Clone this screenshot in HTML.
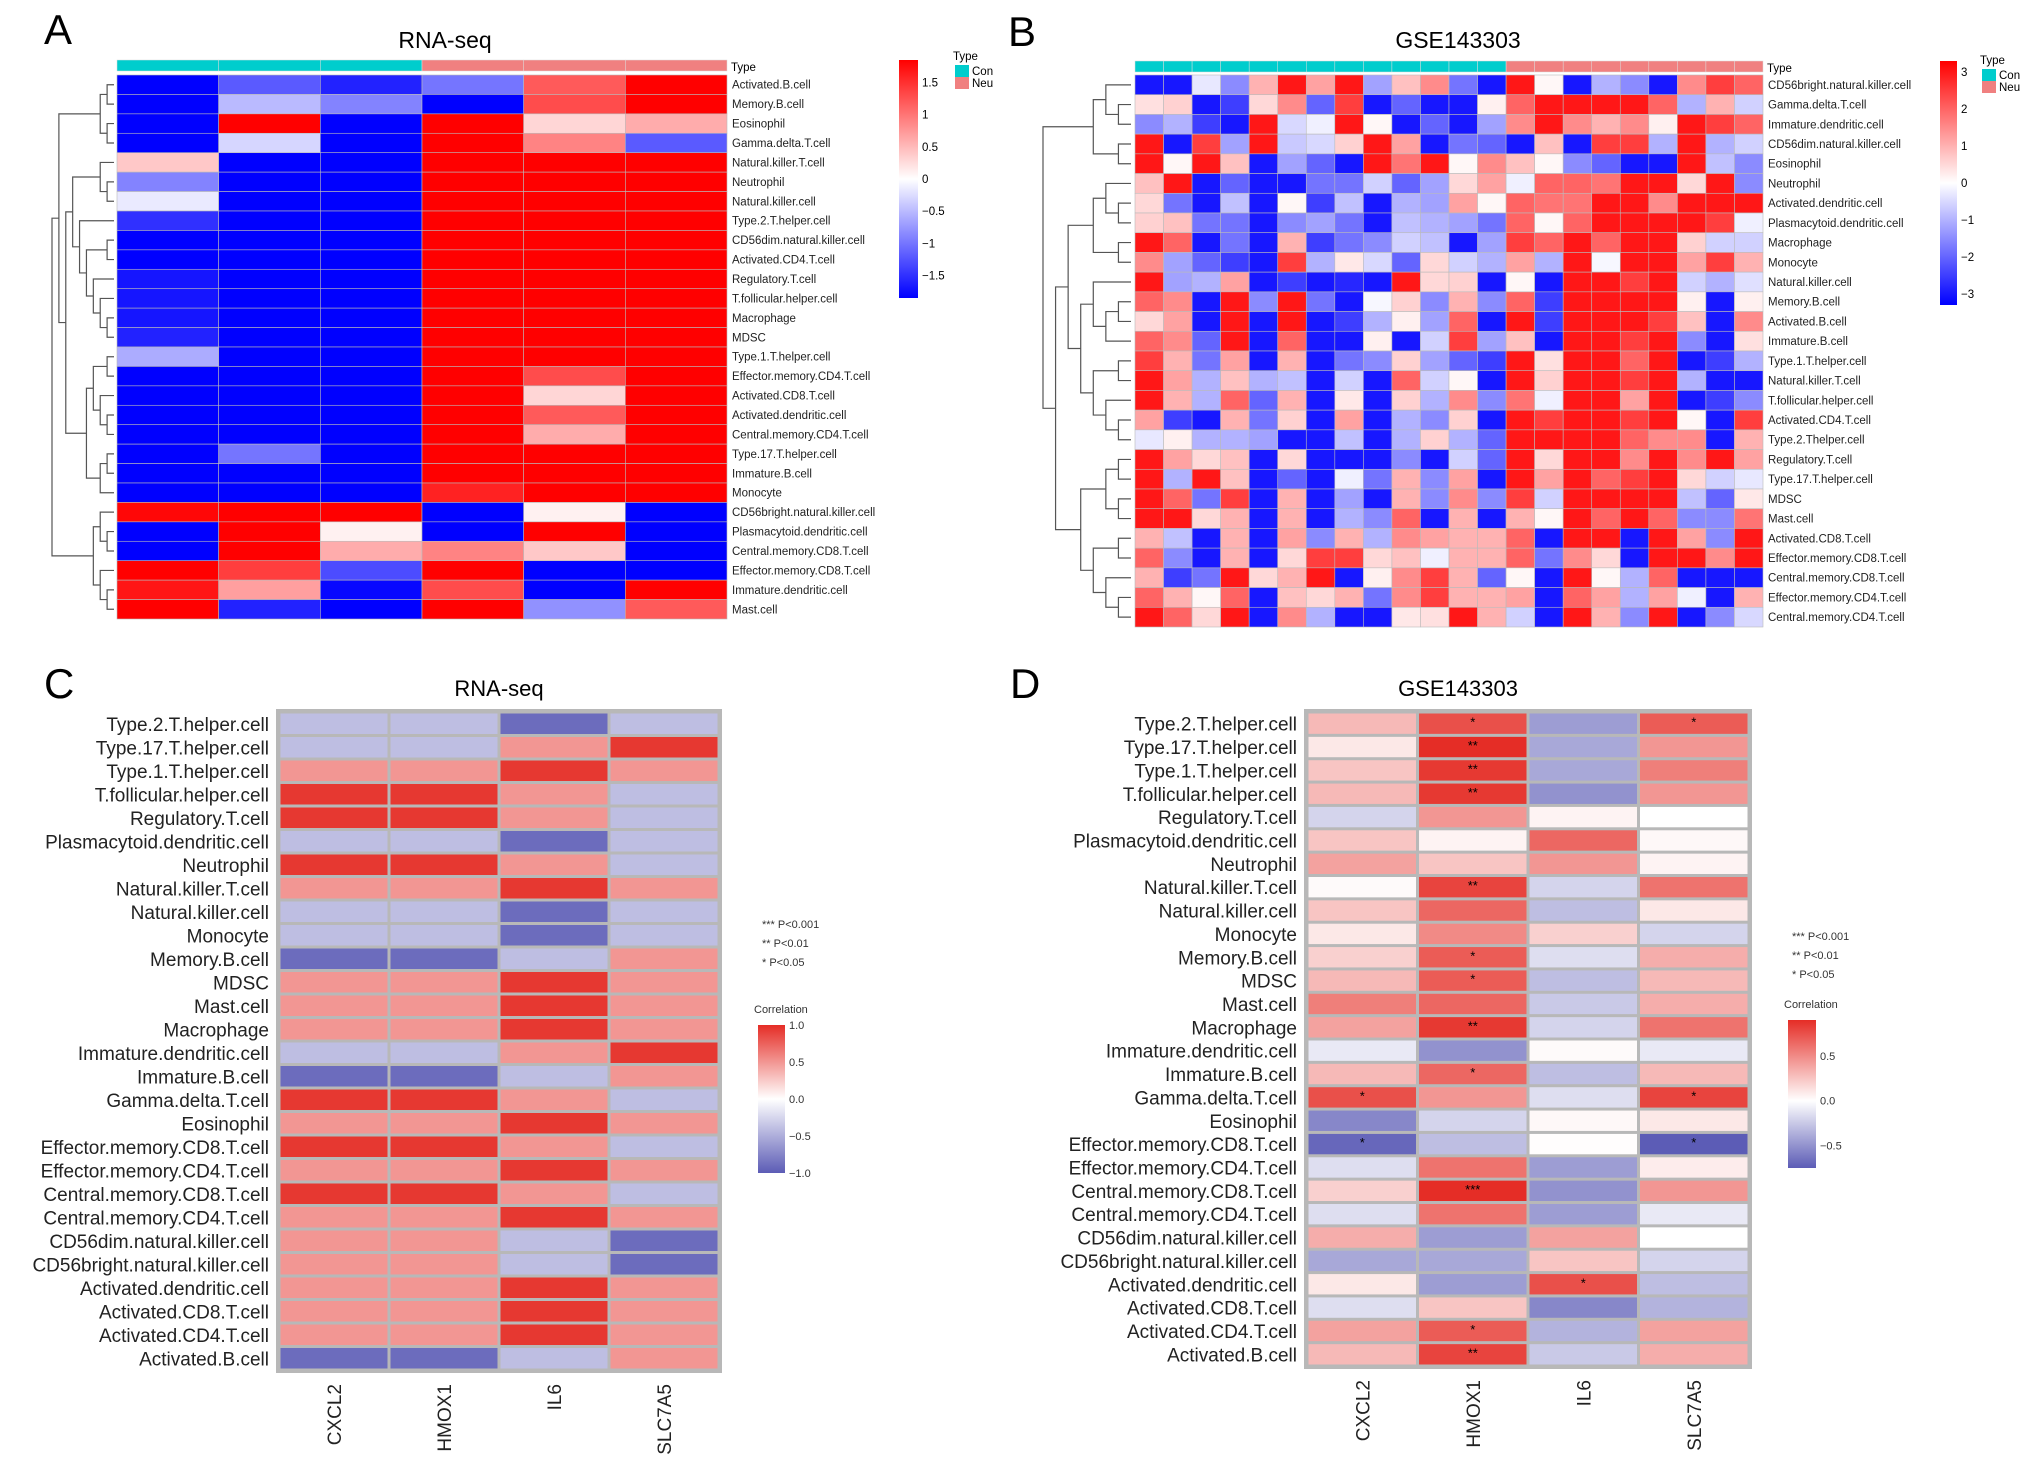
<!DOCTYPE html>
<html><head><meta charset="utf-8"><style>
html,body{margin:0;padding:0;background:#fff;}
svg{display:block;font-family:"Liberation Sans",Arial,sans-serif;}
</style></head><body>
<svg id="fig" width="2032" height="1468" viewBox="0 0 2032 1468" xmlns="http://www.w3.org/2000/svg">
<rect width="2032" height="1468" fill="#fff"/>
<text x="44" y="44" font-size="42">A</text>
<text x="1008" y="46" font-size="42">B</text>
<text x="44" y="698" font-size="42">C</text>
<text x="1010" y="698" font-size="42">D</text>
<text x="445" y="48" font-size="23" text-anchor="middle">RNA-seq</text>
<text x="1458" y="48" font-size="23" text-anchor="middle">GSE143303</text>
<text x="499" y="696" font-size="22" text-anchor="middle">RNA-seq</text>
<text x="1458" y="696" font-size="22" text-anchor="middle">GSE143303</text>
<g id="layer"></g>
</svg>
<script>
// ---------- Panel A data ----------
const aRows=["Activated.B.cell","Memory.B.cell","Eosinophil","Gamma.delta.T.cell","Natural.killer.T.cell","Neutrophil","Natural.killer.cell","Type.2.T.helper.cell","CD56dim.natural.killer.cell","Activated.CD4.T.cell","Regulatory.T.cell","T.follicular.helper.cell","Macrophage","MDSC","Type.1.T.helper.cell","Effector.memory.CD4.T.cell","Activated.CD8.T.cell","Activated.dendritic.cell","Central.memory.CD4.T.cell","Type.17.T.helper.cell","Immature.B.cell","Monocyte","CD56bright.natural.killer.cell","Plasmacytoid.dendritic.cell","Central.memory.CD8.T.cell","Effector.memory.CD8.T.cell","Immature.dendritic.cell","Mast.cell"];
const aGroups=["Con","Con","Con","Neu","Neu","Neu"];
const aValues=[
[-2,-1.2,-1.6,-1,1.2,2],[-2,-0.5,-0.9,-2,1.3,2],[-2,2,-2,2,0.3,0.6],[-2,-0.3,-2,2,0.9,-1.2],
[0.4,-2,-2,2,2,2],[-0.9,-2,-2,2,2,2],[-0.15,-2,-2,2,2,2],[-1.5,-2,-2,2,2,2],
[-2,-2,-2,2,2,2],[-2,-2,-2,2,2,2],[-1.7,-2,-2,2,2,2],[-1.7,-2,-2,2,2,2],
[-1.7,-2,-2,2,2,2],[-1.6,-2,-2,2,2,2],[-0.6,-2,-2,2,2,2],[-2,-2,-2,2,1.3,2],
[-2,-2,-2,2,0.3,2],[-2,-2,-2,2,1.2,2],[-2,-2,-2,2,0.6,2],[-2,-1,-2,2,2,2],
[-2,-2,-2,2,2,2],[-2,-2,-2,1.6,2,2],[1.8,2,2,-2,0.1,-2],[-2,2,0.1,-2,2,-1.9],
[-2,2,0.6,0.9,0.4,-2],[2,1.4,-1.3,2,-2,-2],[1.7,0.7,-1.8,1.3,-2,2],[2,-1.6,-2,2,-0.8,1.2]];
const aTicks=[1.5,1,0.5,0,-0.5,-1,-1.5];
const aTree=[[[[0,1],[2,3]],[[[4,[5,6]],[7,[[8,9],[10,[11,[12,13]]]]]],[[[14,15],[16,[17,18]]],[[19,20],21]]]],[[22,[23,24]],[25,[26,27]]]];

// ---------- Panel B data ----------
const bRows=["CD56bright.natural.killer.cell","Gamma.delta.T.cell","Immature.dendritic.cell","CD56dim.natural.killer.cell","Eosinophil","Neutrophil","Activated.dendritic.cell","Plasmacytoid.dendritic.cell","Macrophage","Monocyte","Natural.killer.cell","Memory.B.cell","Activated.B.cell","Immature.B.cell","Type.1.T.helper.cell","Natural.killer.T.cell","T.follicular.helper.cell","Activated.CD4.T.cell","Type.2.Thelper.cell","Regulatory.T.cell","Type.17.T.helper.cell","MDSC","Mast.cell","Activated.CD8.T.cell","Effector.memory.CD8.T.cell","Central.memory.CD8.T.cell","Effector.memory.CD4.T.cell","Central.memory.CD4.T.cell"];
const bGroups=["Con","Con","Con","Con","Con","Con","Con","Con","Con","Con","Con","Con","Con","Neu","Neu","Neu","Neu","Neu","Neu","Neu","Neu","Neu"];
const bValues=[
[-3,-3,-0.3,-1.5,1,3,1.2,3,-1.2,0.8,1.5,-1.8,-3,3,0.1,-3,-1,-1.5,-3,1.5,2.5,2],
[0.4,0.6,-3,-2.5,0.5,1.5,-2,2.5,-3,-2,-3,-3,0.2,2,3,3,3,3,2,-1,1,-0.6],
[-1.5,-1,-2.5,-3,3,-0.5,-0.2,3,0.1,-3,-2,-3,-1.2,1.5,3,1.5,1,1.5,0.2,3,2.5,2],
[3,-3,2.5,-1.2,3,-0.7,-0.5,0.6,3,1.2,-3,-1.8,-2,-3,0.8,-3,2.5,2.5,-1,3,-1,-0.6],
[3,0.1,3,0.8,-3,-1.2,-2,-3,3,1.8,3,0.1,1.5,0.8,0.1,-1.5,-2,-3,-3,3,-0.8,-1.5],
[0.8,3,-3,-2,-3,-3,-1.8,-1.8,-0.6,-2,-1.2,0.5,1.2,-0.2,2,2,1.8,3,3,0.5,3,-1.5],
[0.5,-1.8,-3,-0.8,-3,0.1,-2.5,-0.8,-3,-1,-1.2,1.2,0.1,2,1.8,1.8,3,3,1.5,3,3,3],
[0.6,0.8,-1.8,-1.8,-3,-1.5,-1.2,-1.8,-3,-0.8,-1,-1.2,-1.8,2,0.1,2,3,3,3,3,2.5,-0.2],
[3,2,-3,-1.8,-3,1,-2.5,-1.8,-1.5,-0.6,-0.8,-3,-1.2,2.5,2,3,2,3,3,0.6,-0.6,-0.6],
[1.5,-1.2,-2,-2.5,-3,2.5,-1,0.3,-0.5,-2,0.5,-0.6,-1,1.2,-1,3,-0.1,3,3,1.2,2.5,1],
[3,-1.2,-1,1.2,-3,-2.5,-3,-2.8,-3,3,0.5,0.6,-3,0.1,-3,3,3,2.5,3,-0.6,-1,-0.4],
[2,1.5,-3,3,-1.5,3,-1.8,-3,-0.1,0.6,-1.5,1,-1.5,2,-2.5,3,3,3,3,0.2,-3,0.2],
[0.5,1.2,-3,3,-3,3,-3,-2.5,-1,0.2,-1.2,2,-3,3,-2.5,3,3,3,2.5,0.8,-3,1.5],
[2,1.5,-2,3,-3,2,-3,-3,0.2,-3,-0.6,2.5,-1.2,0.8,-3,3,3,2.5,3,-1.5,-3,0.4],
[2.5,1,-1.8,1.2,-3,1,-3,-1.8,-1.5,0.6,-1.2,-2,-2.5,3,0.4,3,3,2,3,-3,-2.5,-1],
[3,1.2,-1,0.8,-1,-0.8,-3,-0.6,-3,2,-0.6,0.1,-3,3,0.6,3,3,2.5,3,-1,-3,-3],
[3,1,-1,2,-2,1,-3,0.3,-3,0.6,-1,1.5,-1.5,1.8,-0.2,3,3,1.2,3,-3,-2.5,-1.5],
[1.2,-2.5,-3,1,-1.8,0.6,-3,1.2,-3,-1,-1.5,0.6,-3,3,2.5,3,3,2.5,3,0.1,-3,2.5],
[-0.3,0.2,-1,-1,-1.2,-3,-3,-0.8,-3,-1,0.6,-1,-2,3,3,3,3,2,1.5,1.5,-3,1],
[3,1.2,0.5,0.8,-3,0.5,-3,-3,-3,-1.5,-3,-0.6,-2,3,0.5,3,3,1.5,3,1.5,3,1.2],
[3,-1,3,0.8,-3,-2,-3,-0.2,-1.8,1,-1.5,1.2,-3,3,1.2,3,2,2.5,3,0.5,-0.6,-0.3],
[3,2,-1.8,2.5,-3,1,-3,-1.2,-3,1,-1.5,1.5,-1.5,2.5,-0.6,3,3,3,3,-0.8,-2,0.3],
[3,3,0.5,1,-3,1,-3,-1,-1.5,2,-3,1,-3,1,0.1,3,2,3,2,-1.5,-1.5,1.8],
[1,-0.8,-3,1,-3,1.2,-1.5,1,-1,1.5,1.2,1,1,2,-3,3,3,-3,3,1.2,-1.5,3],
[2,-1.5,-3,1,-3,0.5,2.5,2.5,0.5,0.8,-0.2,1,1,2,-1.8,1.5,0.5,-3,3,3,1.5,3],
[1,-2.5,-1.8,3,0.5,1,3,-3,0.2,1.5,2.5,1,-2,0.1,-3,3,0.1,-1,2,-3,-3,-3],
[2,1,0.1,2,-3,0.8,0.5,1,-1.8,1.5,2.5,1,1,1.2,-3,2,1.2,-1,1.2,-0.2,-3,1],
[3,2,0.5,3,-3,1.5,-1,-3,-3,0.3,0.4,3,1,-0.6,-3,3,1,-1.5,3,-3,-1.5,-0.5]];
const bTicks=[3,2,1,0,-1,-2,-3];
const bTree=[[[0,[1,2]],[3,4]],[[[[5,[6,7]],[8,9]],[[10,[[11,12],13]],[[14,15],[16,[17,18]]]]],[[[19,20],[21,22]],[[23,24],[25,[26,27]]]]]];

// ---------- Panels C/D data ----------
const corRows=["Type.2.T.helper.cell","Type.17.T.helper.cell","Type.1.T.helper.cell","T.follicular.helper.cell","Regulatory.T.cell","Plasmacytoid.dendritic.cell","Neutrophil","Natural.killer.T.cell","Natural.killer.cell","Monocyte","Memory.B.cell","MDSC","Mast.cell","Macrophage","Immature.dendritic.cell","Immature.B.cell","Gamma.delta.T.cell","Eosinophil","Effector.memory.CD8.T.cell","Effector.memory.CD4.T.cell","Central.memory.CD8.T.cell","Central.memory.CD4.T.cell","CD56dim.natural.killer.cell","CD56bright.natural.killer.cell","Activated.dendritic.cell","Activated.CD8.T.cell","Activated.CD4.T.cell","Activated.B.cell"];
const genes=["CXCL2","HMOX1","IL6","SLC7A5"];
const cValues=[
[-0.4,-0.4,-0.9,-0.4],[-0.4,-0.4,0.5,0.95],[0.5,0.5,0.95,0.5],[0.95,0.95,0.5,-0.4],[0.95,0.95,0.5,-0.4],
[-0.4,-0.4,-0.9,-0.4],[0.95,0.95,0.5,-0.4],[0.5,0.5,0.95,0.5],[-0.4,-0.4,-0.9,-0.4],[-0.4,-0.4,-0.9,-0.4],
[-0.9,-0.9,-0.4,0.5],[0.5,0.5,0.95,0.5],[0.5,0.5,0.95,0.5],[0.5,0.5,0.95,0.5],[-0.4,-0.4,0.5,0.95],
[-0.9,-0.9,-0.4,0.5],[0.95,0.95,0.5,-0.4],[0.5,0.5,0.95,0.5],[0.95,0.95,0.5,-0.4],[0.5,0.5,0.95,0.5],
[0.95,0.95,0.5,-0.4],[0.5,0.5,0.95,0.5],[0.5,0.5,-0.4,-0.9],[0.5,0.5,-0.4,-0.9],[0.5,0.5,0.95,0.5],
[0.5,0.5,0.95,0.5],[0.5,0.5,0.95,0.5],[-0.9,-0.9,-0.4,0.5]];
const dValues=[
[0.3,0.75,-0.45,0.7],[0.1,0.9,-0.4,0.45],[0.25,0.85,-0.4,0.55],[0.3,0.85,-0.5,0.45],[-0.2,0.45,0.05,0.0],
[0.25,0.05,0.65,0.03],[0.4,0.25,0.45,0.05],[0.02,0.8,-0.2,0.6],[0.25,0.65,-0.3,0.1],[0.1,0.5,0.2,-0.2],
[0.2,0.7,-0.15,0.35],[0.3,0.7,-0.3,0.3],[0.55,0.65,-0.25,0.35],[0.4,0.85,-0.2,0.6],[-0.1,-0.5,0.02,-0.1],
[0.3,0.65,-0.3,0.3],[0.75,0.45,-0.15,0.8],[-0.55,-0.2,0.03,0.1],[-0.7,-0.3,0.01,-0.75],[-0.15,0.6,-0.45,0.08],
[0.2,0.9,-0.5,0.45],[-0.15,0.6,-0.45,-0.1],[0.35,-0.45,0.4,0.0],[-0.4,-0.4,0.25,-0.2],[0.1,-0.45,0.75,-0.3],
[-0.15,0.25,-0.55,-0.35],[0.4,0.7,-0.35,0.4],[0.3,0.8,-0.25,0.35]];
const dStars=[
["","*","","*"],["","**","",""],["","**","",""],["","**","",""],["","","",""],
["","","",""],["","","",""],["","**","",""],["","","",""],["","","",""],
["","*","",""],["","*","",""],["","","",""],["","**","",""],["","","",""],
["","*","",""],["*","","","*"],["","","",""],["*","","","*"],["","","",""],
["","***","",""],["","","",""],["","","",""],["","","",""],["","","*",""],
["","","",""],["","*","",""],["","**","",""]];
const cTicks=[1.0,0.5,0.0,-0.5,-1.0];
const dTicks=[0.5,0.0,-0.5];

const NS="http://www.w3.org/2000/svg";
const layer=document.getElementById('layer');
function mk(tag,attrs,parent){const e=document.createElementNS(NS,tag);for(const k in attrs)e.setAttribute(k,attrs[k]);(parent||layer).appendChild(e);return e;}
function lerp(a,b,t){return a.map((v,i)=>Math.round(v+(b[i]-v)*t));}
function rgb(c){return `rgb(${c[0]},${c[1]},${c[2]})`;}
function bwr(v,max){let t=Math.max(-1,Math.min(1,v/max));return t<0?rgb(lerp([255,255,255],[0,0,255],-t)):rgb(lerp([255,255,255],[255,0,0],t));}
function corCol(v,lo,hi){const B=[92,92,182],W=[255,255,255],R=[229,45,38];if(v<0){return rgb(lerp(W,B,Math.min(1,v/lo)));}return rgb(lerp(W,R,Math.min(1,v/hi)));}

function pheat(o){
  const nr=o.rows.length,nc=o.groups.length;
  const xS=c=>o.x0+(o.x1-o.x0)*c/nc, yS=r=>o.y0+(o.y1-o.y0)*r/nr;
  const g=mk('g',{});
  
  
  o.groups.forEach((gr,c)=>{
    const r=mk('rect',{x:xS(c),y:o.ty0,width:xS(c+1)-xS(c),height:o.ty1-o.ty0,fill:gr==="Con"?"#00cdcd":"#f08080",stroke:"#ddd","stroke-width":0.5},g);
    
    
  });
  const tl=mk('text',{x:o.x1+4,y:o.ty1,"font-size":o.fs},g);tl.textContent="Type";
  
  
  o.values.forEach((row,r)=>{row.forEach((v,c)=>{
    const cell=mk('rect',{x:xS(c),y:yS(r),width:xS(c+1)-xS(c),height:yS(r+1)-yS(r),fill:bwr(v,o.max),stroke:"#bbb","stroke-width":0.6},g);
    
    
  });
  const t=mk('text',{x:o.x1+5,y:(yS(r)+yS(r+1))/2+o.fs*0.35,"font-size":o.fs,fill:"#222"},g);t.textContent=o.rows[r];
  
  });
  const depth=n=>Array.isArray(n)?1+Math.max(depth(n[0]),depth(n[1])):0;
  const maxD=depth(o.tree);
  const dx=d=>o.dx1-(o.dx1-o.dx0)*d/maxD;
  function draw(n){ if(!Array.isArray(n))return {y:(yS(n)+yS(n+1))/2,x:o.dx1};
    const a=draw(n[0]),b=draw(n[1]);const x=dx(depth(n));
    const p=mk('path',{d:`M${a.x},${a.y}H${x}V${b.y}H${b.x}`,fill:"none",stroke:"#555","stroke-width":1.2},g);
    
    
    return {x:x,y:(a.y+b.y)/2};}
  draw(o.tree);
  const grad=mk('linearGradient',{id:o.id+'grad',x1:0,y1:1,x2:0,y2:0},g);
  [[0,"#0000ff"],[0.5,"#ffffff"],[1,"#ff0000"]].forEach(s=>mk('stop',{offset:s[0],"stop-color":s[1]},grad));
  const cb=mk('rect',{x:o.cb[0],y:o.cb[1],width:o.cb[2],height:o.cb[3],fill:`url(#${o.id}grad)`},g);
  
  
  const cy=v=>o.cb[1]+o.cb[3]/2-v/o.max*o.cb[3]/2;
  o.ticks.forEach(v=>{const t=mk('text',{x:o.cb[0]+o.cb[2]+4,y:cy(v)+4,"font-size":o.fs},g);t.textContent=String(v).replace('-','\u2212');
    
    });
  const lx=o.leg[0],ly=o.leg[1];
  const lt=mk('text',{x:lx,y:ly,"font-size":o.fs},g);lt.textContent="Type";
  
  
  [["Con","#00cdcd"],["Neu","#f08080"]].forEach((e,i)=>{
    const s=mk('rect',{x:lx+2,y:ly+5+i*12,width:14,height:12,fill:e[1]},g);
    
    
    const t=mk('text',{x:lx+19,y:ly+15+i*12,"font-size":o.fs},g);t.textContent=e[0];
    
    });
}
pheat({id:'a',rows:aRows,groups:aGroups,values:aValues,tree:aTree,ticks:aTicks,max:1.85,
  x0:117,x1:727,y0:75,y1:619,ty0:60,ty1:71,dx0:52,dx1:114,fs:11.5,cb:[899,60,19,238],leg:[953,60]});
pheat({id:'b',rows:bRows,groups:bGroups,values:bValues,tree:bTree,ticks:bTicks,max:3.3,
  x0:1135,x1:1763,y0:75,y1:627,ty0:61,ty1:72,dx0:1043,dx1:1131,fs:11.5,cb:[1940,61,17,244],leg:[1980,64]});

function corHeat(o){
  const nr=o.rows.length,nc=genes.length;
  const xS=c=>o.x0+(o.x1-o.x0)*c/nc, yS=r=>o.y0+(o.y1-o.y0)*r/nr;
  const g=mk('g',{});
  
  
  const bg=mk('rect',{x:o.x0-3,y:o.y0-3,width:o.x1-o.x0+6,height:o.y1-o.y0+6,fill:"#b8b8b8"},g);
  
  
  o.values.forEach((row,r)=>{row.forEach((v,c)=>{
    const cell=mk('rect',{x:xS(c)+1.5,y:yS(r)+1.5,width:xS(c+1)-xS(c)-3,height:yS(r+1)-yS(r)-3,fill:corCol(v,o.lo,o.hi)},g);
    
    
    if(o.stars&&o.stars[r][c]){const s=mk('text',{x:(xS(c)+xS(c+1))/2,y:(yS(r)+yS(r+1))/2+3,"font-size":13,"text-anchor":"middle"},g);s.textContent=o.stars[r][c];
      
      }
  });
  const t=mk('text',{x:o.x0-10,y:(yS(r)+yS(r+1))/2+7,"font-size":19,"text-anchor":"end",fill:"#222"},g);t.textContent=o.rows[r];
  
  });
  genes.forEach((gn,c)=>{const cx=(xS(c)+xS(c+1))/2+7;
    const t=mk('text',{x:cx,y:o.y1+14,"font-size":19,"text-anchor":"end",transform:`rotate(-90 ${cx} ${o.y1+14})`,fill:"#222"},g);t.textContent=gn;
    
    });
  ["*** P<0.001","** P<0.01","* P<0.05"].forEach((s,i)=>{const t=mk('text',{x:o.px,y:o.py+i*19,"font-size":11,fill:"#333"},g);t.textContent=s;
    
    });
  const ct=mk('text',{x:o.cb[0]-4,y:o.cb[1]-12,"font-size":11,fill:"#333"},g);ct.textContent="Correlation";
  
  
  const grad=mk('linearGradient',{id:o.id+'cgrad',x1:0,y1:1,x2:0,y2:0},g);
  const z=-o.lo/(o.hi-o.lo);
  [[0,"rgb(92,92,182)"],[z,"#ffffff"],[1,"rgb(229,45,38)"]].forEach(s=>mk('stop',{offset:s[0],"stop-color":s[1]},grad));
  const cb=mk('rect',{x:o.cb[0],y:o.cb[1],width:o.cb[2],height:o.cb[3],fill:`url(#${o.id}cgrad)`},g);
  
  
  const cy=v=>o.cb[1]+o.cb[3]*(o.hi-v)/(o.hi-o.lo);
  o.ticks.forEach(v=>{const t=mk('text',{x:o.cb[0]+o.cb[2]+4,y:cy(v)+4,"font-size":11,fill:"#333"},g);t.textContent=v.toFixed(1).replace('-','\u2212');
    
    });
}
corHeat({id:'c',rows:corRows,values:cValues,stars:null,ticks:cTicks,lo:-1,hi:1,x0:279,x1:719,y0:712,y1:1370,px:762,py:928,cb:[758,1025,27,148]});
corHeat({id:'d',rows:corRows,values:dValues,stars:dStars,ticks:dTicks,lo:-0.75,hi:0.9,x0:1307,x1:1749,y0:712,y1:1366,px:1792,py:940,cb:[1788,1020,28,148]});
</script>
</body></html>
